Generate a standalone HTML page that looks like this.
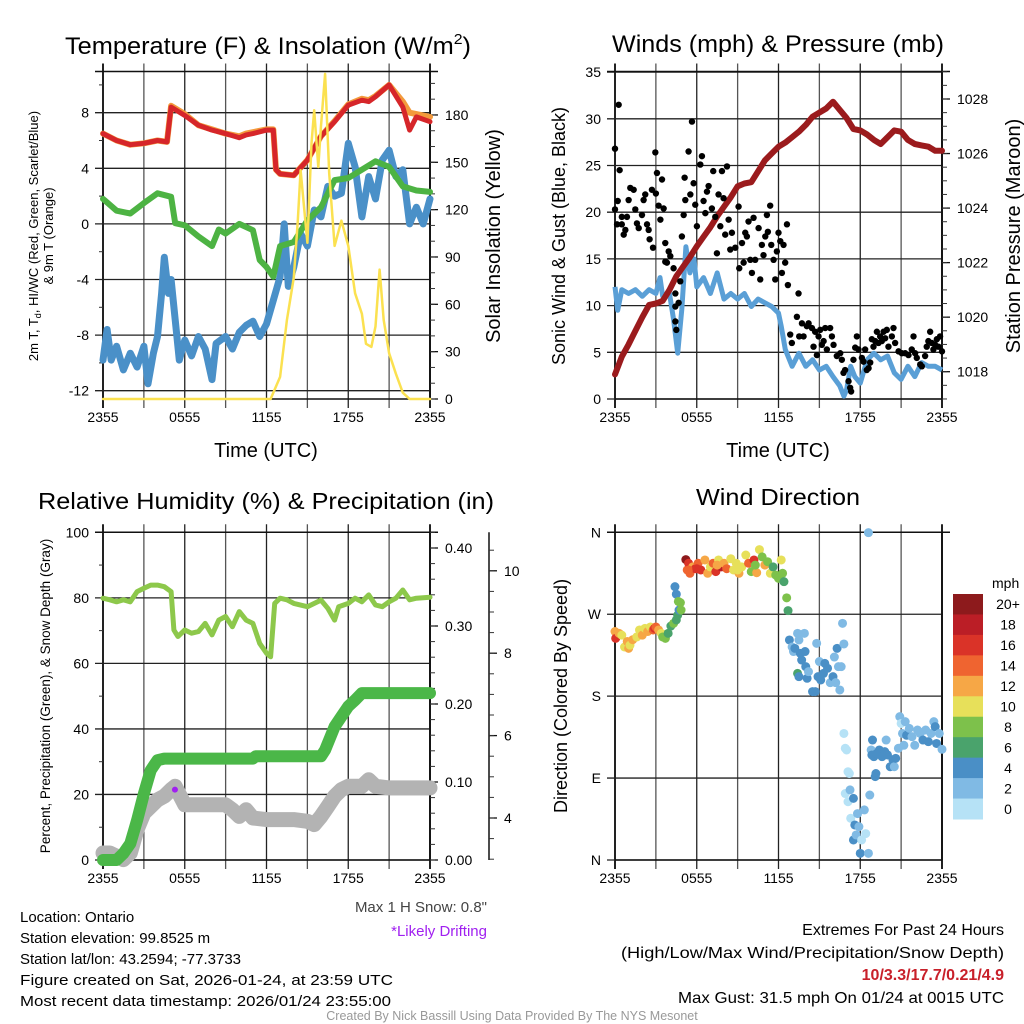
<!DOCTYPE html>
<html><head><meta charset="utf-8"><style>
html,body{margin:0;padding:0;background:#fff;}
svg{display:block;font-family:"Liberation Sans",sans-serif;}
</style></head><body>
<svg id="fig" width="1024" height="1024" viewBox="0 0 1024 1024" xmlns="http://www.w3.org/2000/svg">
<rect width="1024" height="1024" fill="#fff"/>
<g id="p1"></g>
<g id="p2"></g>
<g id="p3"></g>
<g id="p4"></g>
<text x="268" y="54" font-size="24" text-anchor="middle" textLength="406" lengthAdjust="spacingAndGlyphs">Temperature (F) &amp; Insolation (W/m<tspan font-size="15" dy="-10">2</tspan><tspan dy="10">)</tspan></text>
<text x="778" y="52" font-size="24" text-anchor="middle" textLength="332" lengthAdjust="spacingAndGlyphs">Winds (mph) &amp; Pressure (mb)</text>
<text x="266" y="509" font-size="23" text-anchor="middle" textLength="456" lengthAdjust="spacingAndGlyphs">Relative Humidity (%) &amp; Precipitation (in)</text>
<text x="778" y="505" font-size="23" text-anchor="middle" textLength="164" lengthAdjust="spacingAndGlyphs">Wind Direction</text>
<text x="266" y="457" font-size="20" text-anchor="middle">Time (UTC)</text>
<text x="778" y="457" font-size="20" text-anchor="middle">Time (UTC)</text>
<text transform="translate(38,236) rotate(-90)" font-size="13" text-anchor="middle">2m T, T<tspan font-size="9" dy="3">d</tspan><tspan dy="-3">, HI/WC (Red, Green, Scarlet/Blue)</tspan></text>
<text transform="translate(53,236) rotate(-90)" font-size="13" text-anchor="middle">&amp; 9m T (Orange)</text>
<text transform="translate(500,236) rotate(-90)" font-size="20" text-anchor="middle">Solar Insolation (Yellow)</text>
<text transform="translate(565,236) rotate(-90)" font-size="18" text-anchor="middle">Sonic Wind &amp; Gust (Blue, Black)</text>
<text transform="translate(1020,236) rotate(-90)" font-size="20" text-anchor="middle">Station Pressure (Maroon)</text>
<text transform="translate(50,696) rotate(-90)" font-size="13.5" text-anchor="middle">Percent, Precipitation (Green), &amp; Snow Depth (Gray)</text>
<text transform="translate(567,696) rotate(-90)" font-size="18" text-anchor="middle">Direction (Colored By Speed)</text>
<text x="487" y="912" font-size="15" fill="#444" text-anchor="end">Max 1 H Snow: 0.8"</text>
<text x="487" y="936" font-size="15" fill="#a020f0" text-anchor="end">*Likely Drifting</text>
<g font-size="15">
<text x="20" y="922">Location: Ontario</text>
<text x="20" y="943">Station elevation: 99.8525 m</text>
<text x="20" y="964">Station lat/lon: 43.2594; -77.3733</text>
<text x="20" y="985" textLength="373" lengthAdjust="spacingAndGlyphs">Figure created on Sat, 2026-01-24, at 23:59 UTC</text>
<text x="20" y="1006" textLength="371" lengthAdjust="spacingAndGlyphs">Most recent data timestamp: 2026/01/24 23:55:00</text>
</g>
<g font-size="16" text-anchor="end">
<text x="1004" y="935">Extremes For Past 24 Hours</text>
<text x="1004" y="958" textLength="383" lengthAdjust="spacingAndGlyphs">(High/Low/Max Wind/Precipitation/Snow Depth)</text>
<text x="1004" y="980" fill="#c8202a" font-weight="bold">10/3.3/17.7/0.21/4.9</text>
<text x="1004" y="1003" textLength="326" lengthAdjust="spacingAndGlyphs">Max Gust: 31.5 mph On 01/24 at 0015 UTC</text>
</g>
<text x="512" y="1020" font-size="12.5" fill="#999" text-anchor="middle">Created By Nick Bassill Using Data Provided By The NYS Mesonet</text>
</svg>
<script>
// ---------- DATA ----------
const timeTickLabels = ["2355","0555","1155","1755","2355"];
// Panel 1
const tempTimes = [0,1,2,3,4,4.7,5,6,7,8,9,10,10.5,11,12,12.5,12.7,13,14,15,16,17,18,19,19.5,20,21,22,22.5,23,24];
const tempValues = [6.5,6.0,5.7,5.8,6.0,5.9,8.4,7.8,7.1,6.75,6.5,6.2,6.4,6.5,6.75,6.75,3.9,3.6,3.5,4.6,6.3,7.35,8.55,8.9,8.8,9.15,10.0,8.4,6.75,7.7,7.35];
const temp9mValues = [6.5,6.0,5.7,5.8,6.0,5.9,8.5,7.9,7.1,6.8,6.5,6.3,6.5,6.6,6.8,6.8,3.9,3.6,3.5,4.6,6.3,7.4,8.6,9.0,8.9,9.2,10.0,8.8,8.0,7.9,7.7];
const dewTimes = [0,1,2,3,4,5,5.3,6,7,8,8.5,9,10,11,11.5,12,12.5,13,14,15,16,17,18,19,20,21,22,23,24];
const dewValues = [1.8,0.95,0.75,1.5,2.2,1.95,0.05,-0.1,-0.9,-1.6,-0.4,-0.7,0,-0.45,-2.6,-3.1,-3.8,-1.6,-1.3,0.25,1.2,3.15,3.3,3.9,4.5,4.1,2.7,2.4,2.3];
const wcTimes = [0,0.3,0.6,1,1.5,2,2.5,3,3.3,3.7,4,4.3,4.5,4.8,5,5.3,5.6,6,6.5,7,7.5,8,8.3,9,9.5,10,10.5,11,11.5,12,12.5,13,13.3,13.6,14,14.5,15,15.5,16,16.5,17,17.5,18,18.5,19,19.5,20,20.5,21,21.5,22,22.5,23,23.5,24];
const wcValues = [-9.8,-7.6,-9.8,-8.8,-10.5,-9.3,-10.3,-8.8,-11.5,-9.3,-8.1,-5.0,-2.4,-5.0,-4.0,-6.9,-9.8,-8.35,-9.5,-8.1,-9.0,-11.2,-8.6,-8.1,-9.0,-7.8,-7.3,-7.0,-8.1,-7.2,-5.5,-3.8,0,-4.5,-3.1,-0.7,-1.6,1.0,0.5,2.7,2.0,2.2,5.8,4.1,0.5,3.4,1.8,4.6,5.3,3.4,3.9,0,1.2,0,1.8];
const solarTimes = [0,12,12.3,13,13.5,14,14.3,14.5,15,15.3,15.5,15.8,16,16.3,16.6,17,17.5,18,18.5,19,19.3,19.7,20,20.3,20.6,21,21.5,22,22.5,24];
const solarValues = [0,0,0,14,50,77,113,145,99,162,183,147,173,206,143,97,113,97,67,54,35,33,46,82,50,29,16,4,0,0];
const p1LeftTicks = [-12,-8,-4,0,4,8];
const p1RightTicks = [0,30,60,90,120,150,180];
// Panel 2
const windTimes = [0,0.2,0.5,1,1.5,2,2.5,3,3.3,3.5,4,4.3,4.6,4.9,5.2,5.5,5.8,6,6.5,7,7.5,8,8.5,9,9.5,10,10.5,11,11.5,12,12.2,12.5,13,13.5,14,14.5,15,15.5,16,16.5,16.8,17,17.3,17.6,18,18.5,19,19.5,20,20.5,21,21.5,22,22.5,23,23.5,24];
const windValues = [12,9.5,11.7,11.3,11.7,11,11.7,11.3,13,11,11.3,8.5,4.9,9.6,16.3,13.5,15,12,13,11.3,13.5,10.7,11.3,10.7,11.3,9.9,10.7,10.3,9.9,9.2,7.8,5.3,3.5,4.9,3.5,4.2,3.1,3.5,2.4,1.4,0.3,1.0,3.5,2.4,1.7,4.2,4.9,4.2,4.6,2.8,2.1,3.5,2.4,3.9,3.5,3.5,3.1];
const gustTimes = [0,0,0.27,0.34,0.2,0.15,0.5,0.5,0.64,0.76,0.88,1.0,1.12,1.37,1.49,1.61,1.74,1.98,2.1,2.22,2.35,2.47,2.54,2.71,2.79,2.96,3.0,3.08,3.2,3.33,3.45,3.57,3.69,3.69,3.81,3.94,4.06,4.3,4.43,4.43,4.43,4.5,4.67,4.79,4.91,5.04,5.11,5.16,5.4,5.53,5.65,5.77,5.89,6.01,6.26,6.38,6.5,6.63,6.75,6.87,7.11,7.21,7.36,7.48,7.6,7.73,7.85,7.97,8.09,8.22,8.34,8.46,8.58,8.83,9.07,9.12,9.32,9.44,9.56,9.68,9.8,9.93,10.05,10.17,10.29,10.54,10.66,10.78,10.9,11.03,11.15,11.22,11.39,11.47,11.64,11.76,11.88,12.0,12.13,12.25,12.37,12.49,12.62,12.69,12.86,12.98,13.35,13.47,13.52,13.72,13.84,14.08,14.21,14.45,14.57,14.69,14.82,14.94,15.06,15.18,15.31,15.43,15.55,15.79,15.92,16.04,16.28,16.53,16.65,16.77,16.89,17.14,17.26,17.33,17.5,17.63,17.75,17.87,18.12,18.24,18.36,18.48,18.61,18.73,18.85,18.97,19.1,19.22,19.34,19.46,19.58,19.71,19.83,19.95,20.07,20.32,20.44,20.56,20.81,21.05,21.3,21.54,21.78,21.91,22.03,22.15,22.4,22.52,22.76,22.88,23.0,23.13,23.25,23.37,23.5,23.62,23.74,23.86,24];
const gustValues = [20.3,26.8,31.5,24.5,21.2,18.7,18.7,19.5,17.6,18.1,19.5,21.3,22.6,22.4,20.3,18.8,18.3,19.7,21.3,21.9,18.7,18.1,17.1,22.4,16.2,26.4,22,24.2,20.7,19.2,23.5,20.4,16.7,14.7,14.6,15.8,15.3,14,11.3,9.9,8.3,7.4,10.3,12.6,17.4,19.7,23.7,21.3,26.5,21.9,29.7,23.1,20.8,18.5,25.1,26,21.2,19.9,22.2,22.8,20.4,24.4,19.5,15.6,21.9,18.5,24.4,21.5,17.6,24.9,19.2,16,17.8,16.2,20.6,14,16.7,14.6,17.8,17.4,19,14.9,13.5,19.4,14.9,18.3,12.8,16.5,15.4,17.4,19.7,17.9,20.7,16.5,14.9,12.8,15.8,17.8,16.9,13.5,16.5,14.6,18.7,12.2,6.9,6,8.8,11.3,6.7,8.1,6.7,7.8,8.1,7.6,5.6,7.2,4.7,6.7,7.4,5.8,6.2,7.6,5.3,7.6,6.7,5.8,4.6,4.9,4.2,2.8,3.1,1.9,1.2,0.8,4.2,5.5,6.7,5.3,4.4,4,5.3,3.1,3.3,3.9,6.4,5.6,6.2,7.2,6,6.7,6.2,7.2,6.5,7.4,5.6,6.7,7.6,6,5.1,4.9,4.9,4.7,5.3,6.7,4.9,4.4,3.7,3.5,4.6,5.6,6.2,7.2,6,5.3,5.8,6.4,5.6,6.7,5.1];
const pressTimes = [0,0.5,1,1.5,2,2.5,3,3.5,4,4.5,5,5.5,6,6.5,7,7.5,8,8.5,9,9.5,10,10.5,11,11.5,12,12.5,13,13.5,14,14.5,15,15.5,16,16.5,17,17.5,18,18.5,19,19.5,20,20.5,21,21.5,22,22.5,23,23.5,24];
const pressValues = [1017.9,1018.55,1019.0,1019.5,1020.0,1020.45,1020.5,1020.6,1021.0,1021.5,1021.85,1022.2,1022.6,1022.95,1023.3,1023.7,1024.05,1024.4,1024.8,1024.9,1024.95,1025.35,1025.75,1026.0,1026.25,1026.4,1026.6,1026.8,1027.05,1027.35,1027.5,1027.65,1027.9,1027.6,1027.3,1026.9,1026.85,1026.7,1026.5,1026.35,1026.6,1026.85,1026.8,1026.5,1026.35,1026.3,1026.25,1026.1,1026.1];
const p2LeftTicks = [0,5,10,15,20,25,30,35];
const p2RightTicks = [1018,1020,1022,1024,1026,1028];
// Panel 3
const rhTimes = [0,0.5,1,1.5,2,2.5,3,3.5,4,4.5,5,5.2,5.5,6,6.5,7,7.5,8,8.5,9,9.5,10,10.5,11,11.5,12,12.3,12.6,13,13.5,14,15,16,16.5,17,17.3,18,18.5,19,19.5,20,20.5,21,21.5,22,22.5,23,24];
const rhValues = [79.9,79.4,78.8,79.4,78.8,81.9,82.9,83.9,83.9,83.4,81.9,70.2,68.2,70.2,69.2,69.7,72.2,68.7,73.2,74.3,71.2,75.8,73.2,72.2,66.1,63.1,62,78.3,79.9,79.4,78.3,77.3,79.3,76.8,73.2,77.3,78.3,79.9,78.8,80.9,77.8,77.3,78.8,79.9,82.4,79.4,79.9,80.2];
const precipTimes = [0,1,1.5,2,2.5,3,3.5,4,4.5,11,11.2,16,16.3,17,17.5,18,18.5,19,24];
const precipValues = [0,0,0.0085,0.021,0.051,0.085,0.115,0.128,0.13,0.13,0.133,0.133,0.141,0.171,0.184,0.197,0.205,0.214,0.214];
const snowTimes = [0,0.5,1,1.5,2,2.5,3,3.5,4,4.5,5,5.3,6,7,8,9,9.5,10,10.5,11,12,13,14,15,15.5,16,16.5,17,17.5,18,19,19.5,20,21,22,23,24];
const snowValues = [3.15,3.15,3.07,2.99,3.15,3.72,4.12,4.28,4.44,4.53,4.69,4.77,4.32,4.32,4.32,4.32,4.2,4.04,4.2,4.0,3.96,3.96,3.96,3.92,3.84,4.04,4.28,4.53,4.69,4.77,4.77,4.93,4.77,4.73,4.73,4.73,4.73];
const driftTimes = [5.28];
const driftValues = [4.69];
const p3LeftTicks = [0,20,40,60,80,100];
const p3PrecipTicks = [0.00,0.10,0.20,0.30,0.40];
const p3SnowTicks = [4,6,8,10];
// Panel 4
const dirTimes = [0,0.05,0.3,0.5,0.7,0.9,1.0,1.1,1.3,1.6,1.8,2.0,2.2,2.4,2.6,2.8,2.9,3.0,3.2,3.4,3.5,3.7,3.9,4.1,4.3,4.5,4.6,4.7,4.8,4.85,4.4,4.5,4.65,
5.2,5.3,5.4,5.5,5.7,5.9,6.1,6.3,6.6,6.8,7.0,7.2,7.4,7.6,7.8,8.0,8.2,8.5,8.7,8.9,9.1,9.3,9.6,9.8,10.0,10.2,10.4,10.6,10.8,11.0,11.2,11.4,11.6,11.8,12.0,12.2,12.3,12.4,12.6,12.7,5.4,6.0,7.5,9.0,10.3,
12.8,13.0,13.1,13.2,13.4,13.5,13.6,13.7,13.9,13.95,13.4,13.5,14.0,14.1,14.2,14.5,14.7,14.8,14.9,15.0,15.1,15.3,15.4,15.6,15.8,16.0,16.1,16.3,16.4,16.5,16.6,16.7,16.8,16.2,
16.8,16.9,17.0,17.1,17.2,16.9,17.1,17.25,17.3,17.5,17.5,17.6,17.7,17.8,17.9,18.0,18.1,18.6,18.6,18.7,18.4,18.3,
18.8,18.85,18.9,19.0,19.1,19.15,19.2,19.4,19.6,19.8,19.9,20.0,20.2,20.4,20.5,20.6,20.8,20.9,21.0,21.1,21.3,21.2,21.4,21.6,21.8,22.0,22.2,22.4,22.6,22.8,23.0,23.2,23.4,23.5,23.6,23.8,24.0];
const dirValues = [251,243.5,249,247,234,240,232.5,236,242,245,252.7,247,254.5,251,256,252.7,254.5,256,252.7,249,245,243.5,249,257,260,263.7,269,274.6,282.7,274.6,300.3,292,284,
330,318.6,326,315,322,320,326,318.6,329.6,315,322,326,316.8,329.6,322,326,320,331,318.6,326,315,322,335,326,316.8,329.6,315.6,341,333,324,327.7,315,322,313,309.4,329.6,315,305.8,288,274,318.6,320,324,318.6,324,
241.7,234,229,232.5,249,241.7,227,219.7,249,229,205,201.4,212.4,199.6,206.9,185,185,238,201.4,218,197.8,205,216,210.6,194.8,201.4,223,232.5,212.4,186.8,212.4,260,237.3,194.8,
139,122.7,120.9,97,95,73,64,77,45.8,67.7,22,38.5,27.5,51,36.6,7.3,22,359.6,7.3,71.4,29,55,
120.9,115.4,131.8,113.5,91.6,95,117,120.9,113.5,119,131.8,115.4,102.5,110,102.5,111.7,122.7,157.5,150,139,152,126,137,144.6,135.5,126,142.8,139,131.8,142.8,130,139,152,146.5,128,139,121.6];
const dirSpeeds = [12,16,12,10,10,12,12,10,12,10,10,12,10,12,10,14,16,14,12,10,8,8,6,6,8,6,6,4,8,8,4,4,8,
20,14,16,14,12,16,14,16,12,12,10,14,16,10,18,12,14,10,10,10,12,10,10,14,8,16,12,10,8,12,8,10,6,8,8,10,8,6,8,6,14,16,12,10,8,
4,2,2,4,2,2,4,4,2,4,6,4,4,4,2,4,4,2,4,2,4,4,4,4,2,4,2,4,2,2,2,2,2,2,
0,0,0,0,0,0,0,2,0,4,4,4,2,2,2,4,0,2,2,2,0,2,
2,4,4,4,4,4,4,4,4,4,2,4,4,4,2,4,2,2,0,2,2,2,4,2,2,2,2,2,4,2,4,2,2,4,4,2,2];
const speedBins = [0,2,4,6,8,10,12,14,16,18,20];
const speedBinLabels = ["0","2","4","6","8","10","12","14","16","18","20+"];
const speedColors = ["#b6e2f6","#80bae4","#4a8fc6","#4aa36c","#7dc14b","#e7e05a","#f6a746","#ef6430","#da3328","#bb1e26","#8d1a1c"];
const dirTicks = [0,90,180,270,360];
const dirTickLabels = ["N","E","S","W","N"];

// ---------- HELPERS ----------
const NS = "http://www.w3.org/2000/svg";
function mk(tag, attrs, parent){ const e=document.createElementNS(NS,tag); for(const k in attrs) e.setAttribute(k,attrs[k]); parent.appendChild(e); return e; }
const L=103, R=430, TOP1=71.5, BOT1=399, TOP3=532.3, BOT3=860;
function xT(off){ return t => off + L + t/24*(R-L); }
function pathD(ts, vs, xf, yf){ let d=""; for(let i=0;i<ts.length;i++){ d+=(i?"L":"M")+xf(ts[i]).toFixed(1)+","+yf(vs[i]).toFixed(1); } return d; }

function frame(g, off, top, bot, hVals, yf){
  const x = xT(off);
  for(let h=0;h<=24;h+=3){
    const v = mk("line",{x1:x(h),x2:x(h),y1:top-8,y2:bot+9,stroke:(h%6==0?"#222":"#555"),"stroke-width":(h==0||h==24)?2:1.3},g);
    
    
  }
  hVals.forEach(val=>{
    const y=yf(val);
    const hl = mk("line",{x1:off+L-8,x2:off+R,y1:y,y2:y,stroke:"#222","stroke-width":1.3},g);
    
    
  });
  const tl=mk("line",{x1:off+L-8,x2:off+R+8,y1:top,y2:top,stroke:"#111","stroke-width":1.5},g);
  
  
  const bl=mk("line",{x1:off+L,x2:off+R,y1:bot,y2:bot,stroke:"#111","stroke-width":1.5},g);
  
  
  const rl=mk("line",{x1:off+R,x2:off+R,y1:top,y2:bot,stroke:"#111","stroke-width":1.5},g);
  
  
  timeTickLabels.forEach((lab,i)=>{
    const t=mk("text",{x:x(i*6),y:bot+23,"font-size":14,"text-anchor":"middle"},g);
    t.textContent=lab;
    
    
  });
}
function leftLabels(g, off, vals, labs, yf){
  vals.forEach((v,i)=>{
    const t=mk("text",{x:off+L-14,y:yf(v)+5,"font-size":14,"text-anchor":"end"},g);
    t.textContent=labs[i];
    
    
  });
}
function rightAxis(g, ax, vals, labs, yf, minorStep, lo, hi, top, bot){
  vals.forEach((v,i)=>{
    const y=yf(v);
    const tk=mk("line",{x1:ax,x2:ax+8,y1:y,y2:y,stroke:"#111","stroke-width":1.3},g);
    
    
    const t=mk("text",{x:ax+15,y:y+5,"font-size":14},g);
    t.textContent=labs[i];
    
    
  });
  for(let v=lo; v<=hi+1e-9; v+=minorStep){
    const y=yf(v); if(y<top-0.5||y>bot+0.5) continue;
    const tk=mk("line",{x1:ax,x2:ax+5,y1:y,y2:y,stroke:"#333","stroke-width":1},g);
    
    
  }
}

// ---------- PANEL 1 ----------
(function(){
  const g=document.getElementById("p1"), x=xT(0);
  const yT=v=>112.7-(v-8)*13.9, yS=v=>399-v*1.578;
  frame(g,0,TOP1,BOT1,p1LeftTicks,yT);
  leftLabels(g,0,p1LeftTicks,p1LeftTicks.map(String),yT);
  for(let v=-12;v<=10;v+=2){ if(v%4==0) continue; const m=mk("line",{x1:L-4,x2:L,y1:yT(v),y2:yT(v),stroke:"#333"},g);
    
     }
  rightAxis(g,R,p1RightTicks,p1RightTicks.map(String),yS,10,0,200,TOP1,BOT1);
  const s=[[wcTimes,wcValues,yT,"#4a90c8",7,"wind-chill-line"],[dewTimes,dewValues,yT,"#4db343",6,"dewpoint-line"],[tempTimes,temp9mValues,yT,"#f39a3c",6,"temp-9m-line"],[tempTimes,tempValues,yT,"#d6262a",5,"temp-2m-line"],[solarTimes,solarValues,yS,"#fbe150",2.5,"solar-line"]];
  s.forEach(a=>{
    const p=mk("path",{d:pathD(a[0],a[1],x,a[2]),fill:"none",stroke:a[3],"stroke-width":a[4],"stroke-linejoin":"round","stroke-linecap":"round"},g);
    
    
  });
})();

// ---------- PANEL 2 ----------
(function(){
  const off=512, g=document.getElementById("p2"), x=xT(off);
  const yW=v=>399-v*9.34, yP=p=>371.7-(p-1018)*27.27;
  frame(g,off,TOP1,BOT1,p2LeftTicks,yW);
  leftLabels(g,off,p2LeftTicks,p2LeftTicks.map(String),yW);
  rightAxis(g,off+R,p2RightTicks,p2RightTicks.map(String),yP,0.5,1017,1029,TOP1,BOT1);
  const w=mk("path",{d:pathD(windTimes,windValues,x,yW),fill:"none",stroke:"#5a9fd6","stroke-width":5,"stroke-linejoin":"round"},g);
  
  
  const p=mk("path",{d:pathD(pressTimes,pressValues,x,yP),fill:"none",stroke:"#9b1b1d","stroke-width":6,"stroke-linejoin":"round","stroke-linecap":"round"},g);
  
  
  gustTimes.forEach((t,i)=>{
    const c=mk("circle",{cx:x(t),cy:yW(gustValues[i]),r:3.2,fill:"#000"},g);
    
    
  });
})();

// ---------- PANEL 3 ----------
(function(){
  const g=document.getElementById("p3"), x=xT(0);
  const yR=v=>BOT3-v*3.277, yPr=p=>BOT3-p*780, ySn=s=>818-(s-4)*41.2;
  frame(g,0,TOP3,BOT3,p3LeftTicks,yR);
  leftLabels(g,0,p3LeftTicks,p3LeftTicks.map(String),yR);
  for(let v=10;v<100;v+=20){ const m=mk("line",{x1:L-4,x2:L,y1:yR(v),y2:yR(v),stroke:"#333"},g);
    
     }
  rightAxis(g,R,p3PrecipTicks,p3PrecipTicks.map(v=>v.toFixed(2)),yPr,0.02,0,0.42,TOP3,BOT3);
  const sa=mk("line",{x1:489,x2:489,y1:TOP3,y2:BOT3,stroke:"#111","stroke-width":1.5},g);
  
  
  rightAxis(g,489,p3SnowTicks,p3SnowTicks.map(String),ySn,0.5,3,11,TOP3,BOT3);
  const sn=mk("path",{d:pathD(snowTimes,snowValues,x,ySn),fill:"none",stroke:"#b3b3b3","stroke-width":15,"stroke-linejoin":"round","stroke-linecap":"round"},g);
  
  
  driftTimes.forEach((t,i)=>{
    const d=mk("circle",{cx:x(t),cy:ySn(driftValues[i]),r:3,fill:"#a020f0"},g);
    
    
  });
  const pr=mk("path",{d:pathD(precipTimes,precipValues,x,yPr),fill:"none",stroke:"#4bb748","stroke-width":12,"stroke-linejoin":"round","stroke-linecap":"round"},g);
  
  
  const rh=mk("path",{d:pathD(rhTimes,rhValues,x,yR),fill:"none",stroke:"#8dc84b","stroke-width":5,"stroke-linejoin":"round","stroke-linecap":"round"},g);
  
  
})();

// ---------- PANEL 4 ----------
(function(){
  const off=512, g=document.getElementById("p4"), x=xT(off);
  const yD=d=>BOT3-d/360*(BOT3-TOP3);
  frame(g,off,TOP3,BOT3,dirTicks,yD);
  leftLabels(g,off,dirTicks,dirTickLabels,yD);
  dirTimes.forEach((t,i)=>{
    let bi=speedBins.length-1; for(let k=0;k<speedBins.length;k++){ if(dirSpeeds[i]<=speedBins[k]){ bi=k; break; } }
    const c=mk("circle",{cx:x(t),cy:yD(dirValues[i]),r:4.5,fill:speedColors[bi]},g);
    
    
  });
  const leg=mk("g",{},g);
  
  
  const mt=mk("text",{x:992,y:588,"font-size":14},leg);
  mt.textContent="mph";
  
  
  const bh=(819-594)/speedColors.length;
  for(let k=0;k<speedColors.length;k++){
    const idx=speedColors.length-1-k, y=594+k*bh;
    const r=mk("rect",{x:953,y:y,width:30,height:bh+0.5,fill:speedColors[idx]},leg);
    
    
    const t=mk("text",{x:1008,y:y+bh/2+5,"font-size":14,"text-anchor":"middle"},leg);
    t.textContent=speedBinLabels[idx];
    
    
  }
})();
</script>
</body></html>
